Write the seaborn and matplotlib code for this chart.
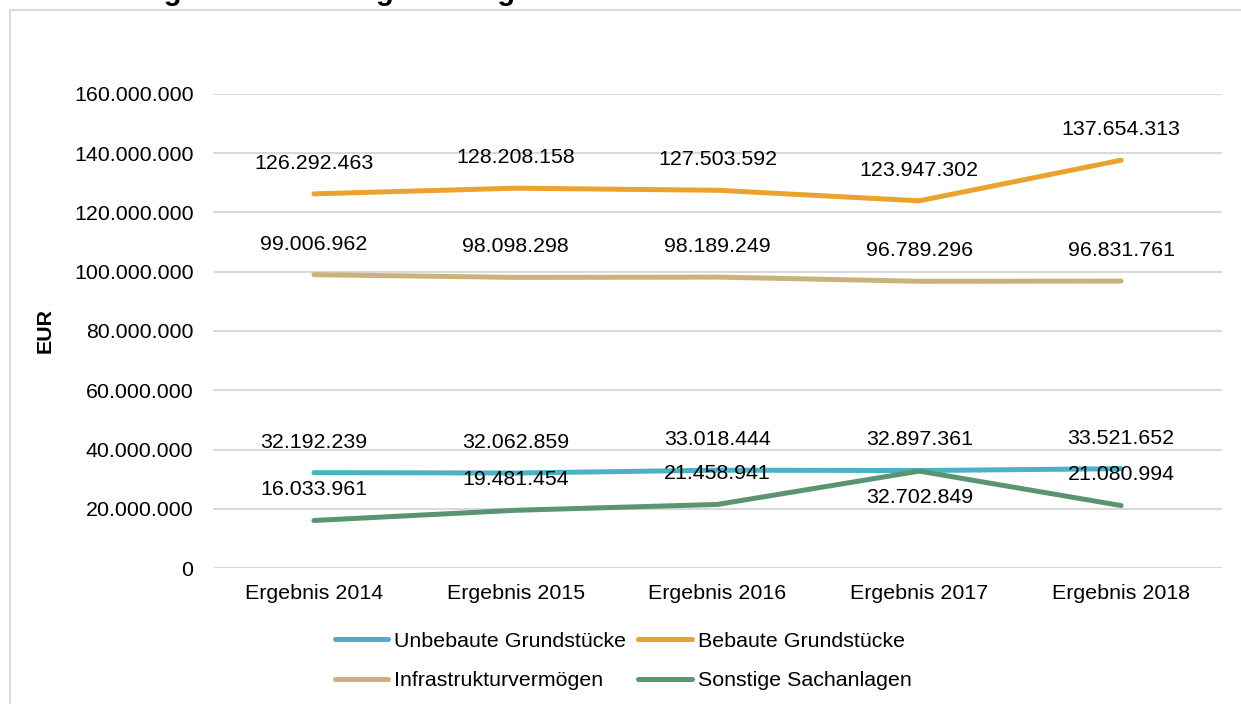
import matplotlib
matplotlib.use("Agg")
import matplotlib.pyplot as plt
import seaborn as sns
import pandas as pd
from matplotlib.patches import Rectangle
from matplotlib.lines import Line2D

categories = ["Ergebnis 2014", "Ergebnis 2015", "Ergebnis 2016", "Ergebnis 2017", "Ergebnis 2018"]
series_names = ["Unbebaute Grundstücke", "Bebaute Grundstücke", "Infrastrukturvermögen", "Sonstige Sachanlagen"]
unbebaute = [32192239, 32062859, 33018444, 32897361, 33521652]
bebaute = [126292463, 128208158, 127503592, 123947302, 137654313]
infrastruktur = [99006962, 98098298, 98189249, 96789296, 96831761]
sonstige = [16033961, 19481454, 21458941, 32702849, 21080994]
colors = ["#4BB2C5", "#EBA22E", "#C9B27C", "#5A9573"]
yticks = [0, 20000000, 40000000, 60000000, 80000000, 100000000, 120000000, 140000000, 160000000]
title = "Entwicklung des Sachanlagevermögens"

values = [unbebaute, bebaute, infrastruktur, sonstige]
rows = []
for name, vals in zip(series_names, values):
    for i, v in enumerate(vals):
        rows.append({"Kategorie": i, "Serie": name, "Wert": v})
df = pd.DataFrame(rows)

sns.set_style("white")
plt.rcParams["font.family"] = ["Liberation Sans", "DejaVu Sans"]
plt.rcParams["text.color"] = "#000000"
plt.rcParams["axes.labelcolor"] = "#000000"

fig = plt.figure(figsize=(12.41, 7.04), dpi=100)
ax = fig.add_axes([213 / 1241, 1 - 568 / 704, (1222 - 213) / 1241, (568 - 94) / 704])

# outer frame
fig.patches.append(Rectangle((10 / 1241, -0.1), 1.2, (704 - 10) / 704 + 0.1, transform=fig.transFigure,
                             fill=False, edgecolor="#D9D9D9", linewidth=1.5))
fig.text(10 / 1241, 1 + 0.5 / 704, title, fontsize=21, fontweight="bold", va="baseline", ha="left",
         color="#000000")

sns.lineplot(data=df, x="Kategorie", y="Wert", hue="Serie", hue_order=series_names,
             palette=colors, linewidth=3.6, ax=ax, legend=False,
             solid_capstyle="round")

fs = 15.4
def fmt(v):
    return f"{v:,.0f}".replace(",", ".")

for si, (name, vals) in enumerate(zip(series_names, values)):
    for i, v in enumerate(vals):
        off = 22
        if name == "Sonstige Sachanlagen" and i == 3:
            off = -19
        ax.annotate(fmt(v), (i, v), xytext=(0, off), textcoords="offset points",
                    ha="center", va="center", fontsize=fs, color="#000000")

ax.set_xlim(-0.5, 4.5)
ax.set_ylim(0, 160000000)
ax.set_xticks(range(len(categories)))
ax.set_xticklabels(categories)
ax.set_yticks(yticks)
ax.set_yticklabels([fmt(t) for t in yticks])
ax.tick_params(axis="both", length=0, labelsize=fs, colors="#000000")
ax.tick_params(axis="y", pad=14)
ax.tick_params(axis="x", pad=11.5)
ax.grid(axis="y", color="#D9D9D9", linewidth=1.5)
ax.set_axisbelow(True)
for s in ax.spines.values():
    s.set_visible(False)
ax.set_xlabel("")
ax.set_ylabel("EUR", fontsize=fs, fontweight="bold", labelpad=0, color="#000000")
ax.yaxis.set_label_coords((55 - 213) / (1222 - 213), 0.5)
ax.patch.set_alpha(0)

handles = [Line2D([0], [0], color=c, linewidth=3.6, solid_capstyle="round") for c in colors]
# column-major fill: order so rows read (Unbebaute, Bebaute), (Infrastruktur, Sonstige)
order = [0, 2, 1, 3]
fig.legend([handles[k] for k in order], [series_names[k] for k in order],
           loc="center", bbox_to_anchor=(623 / 1241, 1 - 661 / 704),
           ncol=2, frameon=False, fontsize=fs, handlelength=2.5, handletextpad=0.28,
           columnspacing=0.56, labelspacing=0.95, borderpad=0, labelcolor="#000000")

fig.savefig("out.png", dpi=100)
